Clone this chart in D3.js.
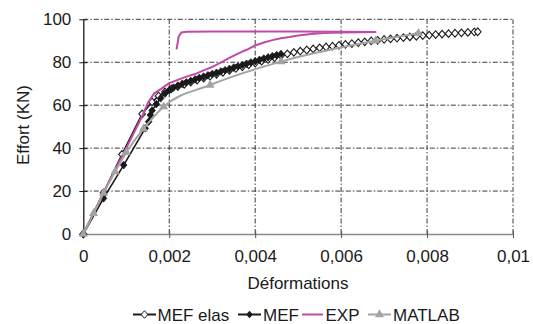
<!DOCTYPE html>
<html><head><meta charset="utf-8">
<script src="https://cdn.jsdelivr.net/npm/d3@7"></script>
<style>
html,body{margin:0;padding:0;background:#fff;}
text{font-family:"Liberation Sans",Arial,Helvetica,sans-serif;fill:#1a1a1a;}
</style></head>
<body><svg id="c" width="533" height="324"></svg>
<script>
// ---------- data ----------
const xTicks = [0, 0.002, 0.004, 0.006, 0.008, 0.01];
const xTickLabels = ["0", "0,002", "0,004", "0,006", "0,008", "0,01"];
const yTicks = [0, 20, 40, 60, 80, 100];
const seriesNames = ["MEF elas", "MEF", "EXP", "MATLAB"];

const mefElasX = [0, 0.00047, 0.0009, 0.00137, 0.0016, 0.00175, 0.0019, 0.00205, 0.0022, 0.00235, 0.0025, 0.00265, 0.0028, 0.00295, 0.0031, 0.00325, 0.0034, 0.00355, 0.0037, 0.00385, 0.004, 0.00415, 0.0043, 0.00445, 0.0046, 0.00475, 0.0049, 0.00505, 0.0052, 0.00535, 0.0055, 0.00565, 0.0058, 0.00595, 0.0061, 0.00625, 0.0064, 0.00655, 0.0067, 0.00685, 0.007, 0.00715, 0.0073, 0.00745, 0.0076, 0.00775, 0.0079, 0.00805, 0.0082, 0.00835, 0.0085, 0.00865, 0.0088, 0.00895, 0.0091, 0.00918];
const mefElasY = [0, 19.2, 37.1, 55.9, 61.5, 64.3, 66.2, 67.6, 68.7, 69.7, 70.7, 71.7, 72.6, 73.5, 74.4, 75.3, 76.2, 77.1, 77.9, 78.8, 79.6, 80.5, 81.3, 82.1, 83.1, 83.9, 84.6, 85.2, 85.7, 86.2, 86.7, 87.1, 87.5, 87.9, 88.3, 88.7, 89.1, 89.5, 89.9, 90.2, 90.6, 90.9, 91.2, 91.5, 91.8, 92.1, 92.4, 92.6, 92.9, 93.1, 93.3, 93.5, 93.7, 93.9, 94.1, 94.2];

const mefX = [0, 0.00047, 0.00094, 0.00144, 0.00152, 0.00156, 0.0016, 0.0017, 0.0018, 0.0019, 0.002, 0.0021, 0.0022, 0.0023, 0.0024, 0.0025, 0.0026, 0.0027, 0.0028, 0.0029, 0.003, 0.0031, 0.0032, 0.0033, 0.0034, 0.0035, 0.0036, 0.0037, 0.0038, 0.0039, 0.004, 0.0041, 0.0042, 0.0043, 0.0044, 0.0045, 0.0046];
const mefY = [0, 16.6, 32.1, 49.2, 52.3, 55.4, 57.5, 60.5, 63.2, 65.4, 67, 68.2, 69.1, 69.9, 70.6, 71.3, 72, 72.7, 73.3, 73.9, 74.5, 75.1, 75.7, 76.3, 76.9, 77.5, 78.1, 78.7, 79.3, 79.9, 80.5, 81.1, 81.7, 82.3, 82.8, 83.3, 83.8];

const expX = [0, 0.0005, 0.001, 0.00135, 0.0015, 0.00165, 0.0018, 0.002, 0.0022, 0.0024, 0.0026, 0.0028, 0.003, 0.0032, 0.0034, 0.0036, 0.0038, 0.004, 0.0042, 0.0044, 0.0046, 0.0048, 0.005, 0.0053, 0.0056, 0.006, 0.0064, 0.0068, 0.006, 0.005, 0.004, 0.003, 0.0024, 0.00228, 0.00222, 0.00217];
const expY = [0, 20.5, 40, 54, 61, 65.5, 67.5, 70.3, 71.8, 73.3, 74.5, 76.2, 77.8, 79.8, 82, 84, 85.8, 87.8, 89.2, 90.3, 91.2, 91.8, 92.5, 93.2, 93.6, 93.9, 94, 94.1, 94.2, 94.3, 94.3, 94.3, 94.2, 93.8, 92, 86];

const matlabX = [0, 0.00024, 0.00047, 0.00074, 0.001, 0.0014, 0.00187, 0.00295, 0.0046, 0.0068, 0.0078];
const matlabY = [0, 9.6, 19, 29, 38, 49, 59.3, 69.4, 80.3, 90, 93.5];

// ---------- drawing ----------
const svg = d3.select("#c");
const x = d3.scaleLinear().domain([0, 0.01]).range([83.3, 513]);
const y = d3.scaleLinear().domain([0, 100]).range([234, 19.3]);
const FS = 17;
const GRID = "#3a3a3a", DASH = "5,2,1.5,2";
const C_EXP = "#c04aa6", C_MAT = "#a3a3a3";

// grid
svg.append("g").selectAll("line").data(yTicks.slice(1)).join("line")
  .attr("x1", x(0)).attr("x2", x(0.01)).attr("y1", d => y(d)).attr("y2", d => y(d))
  .attr("stroke", GRID).attr("stroke-width", 1).attr("stroke-dasharray", DASH);
svg.append("g").selectAll("line").data(xTicks.slice(1)).join("line")
  .attr("x1", d => x(d)).attr("x2", d => x(d)).attr("y1", y(0)).attr("y2", y(100))
  .attr("stroke", GRID).attr("stroke-width", 1).attr("stroke-dasharray", DASH);

// x axis
const xa = svg.append("g").attr("transform", `translate(0,${y(0)})`)
  .call(d3.axisBottom(x).tickValues(xTicks).tickSizeInner(4).tickSizeOuter(0).tickPadding(12)
    .tickFormat((d, i) => xTickLabels[i]));
xa.select(".domain").attr("stroke", "#8a8a8a").attr("stroke-width", 1.5);
xa.selectAll(".tick line").attr("stroke", "#555");
xa.selectAll("text").attr("font-size", FS).style("font-family", "Liberation Sans, Arial, sans-serif").attr("fill", "#1a1a1a");
const xa2 = svg.append("g").attr("transform", `translate(0,${y(0)})`)
  .call(d3.axisTop(x).tickValues(xTicks).tickSizeInner(3).tickSizeOuter(0).tickFormat(""));
xa2.select(".domain").remove();
xa2.selectAll(".tick line").attr("stroke", "#555");

// y axis
const ya = svg.append("g").attr("transform", `translate(${x(0)},0)`)
  .call(d3.axisLeft(y).tickValues(yTicks).tickSizeInner(4).tickSizeOuter(0).tickPadding(8));
ya.select(".domain").attr("stroke", "#1a1a1a").attr("stroke-width", 1.3);
ya.selectAll(".tick line").attr("stroke", "#1a1a1a");
ya.selectAll("text").attr("font-size", FS).style("font-family", "Liberation Sans, Arial, sans-serif").attr("fill", "#1a1a1a");
const ya2 = svg.append("g").attr("transform", `translate(${x(0)},0)`)
  .call(d3.axisRight(y).tickValues(yTicks).tickSizeInner(4).tickSizeOuter(0).tickFormat(""));
ya2.select(".domain").remove();
ya2.selectAll(".tick line").attr("stroke", "#1a1a1a");

// axis titles
svg.append("text").attr("x", 298).attr("y", 289).attr("text-anchor", "middle")
  .attr("font-size", FS).text("Déformations");
svg.append("text").attr("transform", "translate(28.5,125) rotate(-90)").attr("text-anchor", "middle")
  .attr("font-size", FS).text("Effort (KN)");

// series
const zip = (xs, ys) => xs.map((v, i) => [v, ys[i]]);
const lin = d3.line().x(d => x(d[0])).y(d => y(d[1]));
const smooth = d3.line().x(d => x(d[0])).y(d => y(d[1])).curve(d3.curveMonotoneX);
const diamond = "M0,-3.8L3.3,0L0,3.8L-3.3,0Z";
const tri = d3.symbol().type(d3.symbolTriangle).size(36);

const dElas = zip(mefElasX, mefElasY);
const dMef = zip(mefX, mefY);
const dExp = zip(expX, expY);
const dMat = zip(matlabX, matlabY);

const plot = svg.append("g");
// MEF elas
plot.append("path").attr("d", lin(dElas)).attr("fill", "none").attr("stroke", "#1a1a1a").attr("stroke-width", 1.6);
plot.append("g").selectAll("path").data(dElas).join("path")
  .attr("transform", d => `translate(${x(d[0])},${y(d[1])})`).attr("d", diamond)
  .attr("fill", "#fff").attr("stroke", "#1a1a1a").attr("stroke-width", 1.1);
// MEF
plot.append("path").attr("d", lin(dMef)).attr("fill", "none").attr("stroke", "#1a1a1a").attr("stroke-width", 1.6);
plot.append("g").selectAll("path").data(dMef).join("path")
  .attr("transform", d => `translate(${x(d[0])},${y(d[1])})`).attr("d", diamond)
  .attr("fill", "#1a1a1a").attr("stroke", "#1a1a1a").attr("stroke-width", 0.8);
// EXP
plot.append("path").attr("d", lin(dExp)).attr("fill", "none").attr("stroke", C_EXP).attr("stroke-width", 2).attr("stroke-linejoin", "round");
// MATLAB
plot.append("path").attr("d", smooth(dMat)).attr("fill", "none").attr("stroke", C_MAT).attr("stroke-width", 2);
plot.append("g").selectAll("path").data(dMat).join("path")
  .attr("transform", d => `translate(${x(d[0])},${y(d[1])})`).attr("d", tri)
  .attr("fill", C_MAT);

// legend
const legY = 314.5;
const leg = svg.append("g");
const items = [
  {x0: 133, x1: 156, tx: 157.5, color: "#1a1a1a", mark: "open"},
  {x0: 238, x1: 261, tx: 263, color: "#1a1a1a", mark: "fill"},
  {x0: 302, x1: 323, tx: 325.5, color: C_EXP, mark: "none"},
  {x0: 368, x1: 391, tx: 393, color: C_MAT, mark: "tri"}
];
items.forEach((it, i) => {
  leg.append("line").attr("x1", it.x0).attr("x2", it.x1).attr("y1", legY).attr("y2", legY)
    .attr("stroke", it.color).attr("stroke-width", 2);
  const cx = (it.x0 + it.x1) / 2;
  if (it.mark === "open") leg.append("path").attr("transform", `translate(${cx},${legY})`).attr("d", diamond).attr("fill", "#fff").attr("stroke", "#1a1a1a");
  if (it.mark === "fill") leg.append("path").attr("transform", `translate(${cx},${legY})`).attr("d", diamond).attr("fill", "#1a1a1a");
  if (it.mark === "tri") leg.append("path").attr("transform", `translate(${cx},${legY})`).attr("d", tri).attr("fill", C_MAT);
  leg.append("text").attr("x", it.tx).attr("y", legY + 6.2).attr("font-size", FS).text(seriesNames[i]);
});
</script></body></html>
